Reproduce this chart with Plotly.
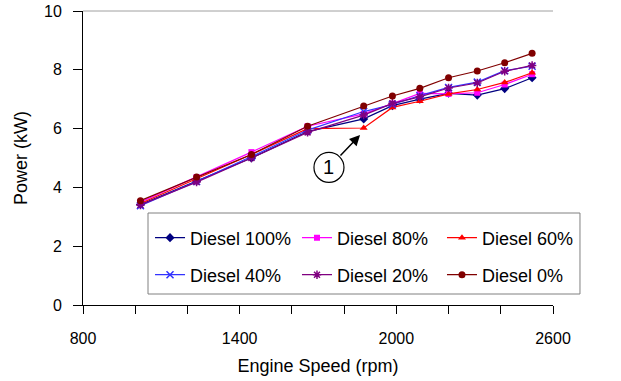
import plotly.graph_objects as go

engine_speed = [1020, 1235, 1445, 1660, 1875, 1985, 2090, 2200, 2310, 2415, 2520]

diesel_100 = [3.42, 4.22, 5.00, 5.90, 6.33, 6.78, 7.00, 7.20, 7.14, 7.36, 7.73]
diesel_80 = [3.50, 4.35, 5.20, 6.08, 6.50, 6.85, 7.20, 7.18, 7.22, 7.50, 7.85]
diesel_60 = [3.45, 4.30, 5.12, 6.00, 6.02, 6.72, 6.93, 7.18, 7.33, 7.57, 7.90]
diesel_40 = [3.38, 4.20, 5.05, 5.95, 6.58, 6.82, 7.12, 7.40, 7.58, 7.97, 8.12]
diesel_20 = [3.40, 4.18, 5.00, 5.87, 6.46, 6.86, 7.08, 7.38, 7.55, 7.95, 8.15]
diesel_0 = [3.55, 4.35, 5.12, 6.08, 6.77, 7.11, 7.37, 7.73, 7.96, 8.24, 8.56]

x_tick_vals = [800, 1000, 1200, 1400, 1600, 1800, 2000, 2200, 2400, 2600]
x_tick_text = ["800", "", "", "1400", "", "", "2000", "", "", "2600"]
y_tick_vals = [0, 2, 4, 6, 8, 10]

series = [
    ("Diesel 100%", diesel_100, "#000080", "diamond", 7),
    ("Diesel 80%", diesel_80, "#FF00FF", "square", 6),
    ("Diesel 60%", diesel_60, "#FF0000", "triangle-up", 7),
    ("Diesel 40%", diesel_40, "#3333FF", "x-thin", 7),
    ("Diesel 20%", diesel_20, "#800080", "asterisk", 7),
    ("Diesel 0%", diesel_0, "#800000", "circle", 7),
]

font_family = "Liberation Sans, Arial, sans-serif"

# legend slot positions (paper coords): 3 columns x 2 rows
legend_cols = [0.1426, 0.4553, 0.7638]
legend_rows = [0.228, 0.102]

fig = go.Figure()
legend_layouts = {}
for i, (name, vals, color, sym, size) in enumerate(series):
    open_sym = sym in ("x-thin", "asterisk")
    leg_id = "legend" if i == 0 else f"legend{i + 1}"
    fig.add_trace(go.Scatter(
        x=engine_speed, y=vals, name=name, mode="lines+markers",
        line=dict(color=color, width=1.2),
        marker=dict(symbol=sym, size=size, color=color,
                    line=dict(color=color, width=1.5 if open_sym else 0)),
        legend=leg_id,
    ))
    legend_layouts[leg_id] = dict(
        orientation="h", x=legend_cols[i % 3], y=legend_rows[i // 3],
        xanchor="left", yanchor="middle", bgcolor="rgba(0,0,0,0)",
        font=dict(size=18, family=font_family), borderwidth=0)

fig.update_layout(
    width=621, height=381,
    margin=dict(l=83, r=68, t=11, b=76, autoexpand=False),
    paper_bgcolor="white", plot_bgcolor="white",
    font=dict(family=font_family, color="black", size=16),
    showlegend=True,
    xaxis=dict(range=[800, 2600], tickvals=x_tick_vals, ticktext=x_tick_text,
               ticks="outside", ticklen=8, tickcolor="black", showline=True,
               linecolor="black", linewidth=1, showgrid=False, zeroline=False,
               tickfont=dict(size=16), ticklabelstandoff=11,
               title=dict(text="Engine Speed (rpm)", font=dict(size=18), standoff=13)),
    yaxis=dict(range=[0, 10], tickvals=y_tick_vals, ticks="outside", ticklen=9,
               tickcolor="black", showline=True, linecolor="black", linewidth=1,
               showgrid=False, zeroline=False, tickfont=dict(size=16),
               ticklabelstandoff=8,
               title=dict(text="Power (kW)", font=dict(size=18), standoff=11)),
    **legend_layouts,
)

# top border line of plot
fig.add_shape(type="line", xref="paper", yref="paper", x0=0, x1=1, y0=1, y1=1,
              line=dict(color="#A0A0A0", width=1))

# legend frame
fig.add_shape(type="rect", xref="paper", yref="paper", x0=0.1383, x1=1.0574,
              y0=0.0374, y1=0.3129, line=dict(color="#808080", width=1),
              fillcolor="rgba(0,0,0,0)", layer="below")

# circled label "1" with arrow
fig.add_shape(type="circle", xref="x", yref="y", xsizemode="pixel", ysizemode="pixel",
              xanchor=1742, yanchor=4.68, x0=-15, x1=15, y0=-15, y1=15,
              line=dict(color="black", width=1.2), fillcolor="white")
fig.add_annotation(x=1742, y=4.68, xref="x", yref="y", text="1", showarrow=False,
                   font=dict(size=20, family=font_family))
fig.add_annotation(x=1861, y=5.78, xref="x", yref="y", text="", showarrow=True,
                   ax=-21, ay=22, arrowhead=2, arrowsize=1.4, arrowwidth=1.5,
                   arrowcolor="black")

fig.write_html("out.html", config={"displayModeBar": False},
               post_script="document.body.style.margin='0px';")
